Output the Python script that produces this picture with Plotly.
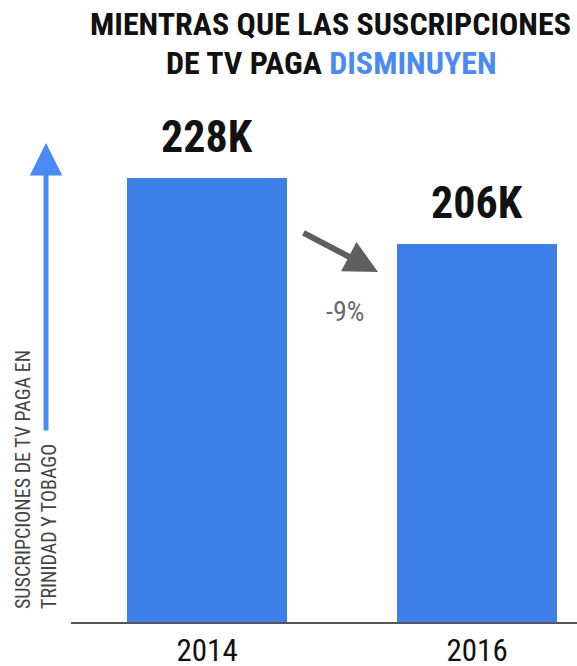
import plotly.graph_objects as go

years = ["2014", "2016"]
subs_k = [228, 206]
value_labels = ["228K", "206K"]
change_label = "-9%"
title_line1 = "MIENTRAS QUE LAS SUSCRIPCIONES"
title_line2a = "DE TV PAGA "
title_line2b = "DISMINUYEN"
ylabel = "SUSCRIPCIONES DE TV PAGA EN<br>TRINIDAD Y TOBAGO"

FONT = "Roboto Condensed, Liberation Sans Narrow, Roboto, sans-serif"
BAR = "#3d7fe6"
TBLUE = "#4a8af4"

W, H = 577, 666
ML, MR, MT, MB = 71, 0, 100, 44

fig = go.Figure()
fig.add_trace(go.Bar(x=years, y=subs_k, marker=dict(color=BAR, line=dict(width=0)),
                     width=0.593, hoverinfo="skip"))

for i, (v, lab) in enumerate(zip(subs_k, value_labels)):
    fig.add_annotation(x=i, y=v, xref="x", yref="y", text=f"<b>{lab}</b>",
                       showarrow=False, xanchor="center", yanchor="bottom", yshift=13,
                       font=dict(family=FONT, size=44, color="#111"))

pw = W - ML - MR
ph = H - MT - MB
def px(xp): return (xp - ML) / pw
def py(yp): return (H - MB - yp) / ph

# gray change arrow
fig.add_annotation(x=px(378), y=py(272), xref="paper", yref="paper", text="",
                   showarrow=True, ax=-76, ay=-40, arrowhead=2, arrowsize=1.1,
                   arrowwidth=6, arrowcolor="#5f5f5f")
fig.add_annotation(x=px(345), y=py(311), xref="paper", yref="paper", text=change_label,
                   showarrow=False, xanchor="center", yanchor="middle",
                   font=dict(family=FONT, size=28, color="#6b6b6b"))

# blue y arrow
fig.add_annotation(x=px(46), y=py(143), xref="paper", yref="paper", text="",
                   showarrow=True, ax=0, ay=289, arrowhead=2, arrowsize=1.3,
                   arrowwidth=5, arrowcolor=TBLUE)
fig.add_annotation(x=px(36), y=py(480), xref="paper", yref="paper", text=ylabel,
                   showarrow=False, textangle=-90, align="left",
                   xanchor="center", yanchor="middle",
                   font=dict(family=FONT, size=20, color="#444"))

# title
fig.add_annotation(x=px(330), y=py(24), xref="paper", yref="paper",
                   text=f"<b>{title_line1}</b>", showarrow=False,
                   xanchor="center", yanchor="middle",
                   font=dict(family=FONT, size=32, color="#111"))
fig.add_annotation(x=px(331), y=py(63), xref="paper", yref="paper",
                   text=f"<b>{title_line2a}<span style='color:{TBLUE}'>{title_line2b}</span></b>",
                   showarrow=False, xanchor="center", yanchor="middle",
                   font=dict(family=FONT, size=32, color="#111"))

fig.update_layout(
    width=W, height=H, margin=dict(l=ML, r=MR, t=MT, b=MB, autoexpand=False),
    paper_bgcolor="white", plot_bgcolor="white", showlegend=False,
    bargap=0,
    xaxis=dict(type="category", range=[-0.504, -0.504 + pw / 270], showgrid=False,
               showline=True, linecolor="#555", linewidth=2, zeroline=False,
               ticks="", ticklabelstandoff=0, automargin=False,
               tickfont=dict(family=FONT, size=31, color="#111")),
    yaxis=dict(range=[80, 80 + ph / 3], visible=False, showgrid=False, zeroline=False,
               automargin=False),
)

fig.write_html("out.html", config={"displayModeBar": False},
               post_script="document.body.style.margin='0';document.body.style.overflow='hidden';")
